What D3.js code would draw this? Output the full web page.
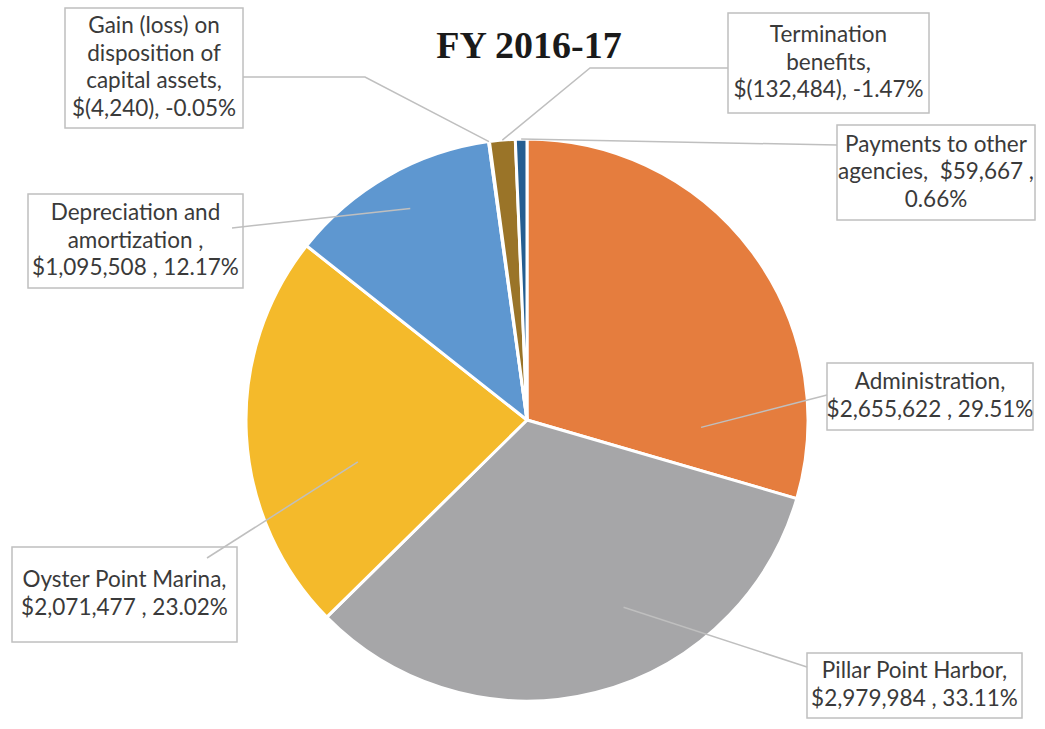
<!DOCTYPE html>
<html>
<head>
<meta charset="utf-8">
<script src="https://cdn.jsdelivr.net/npm/d3@7"></script>
<style>
  body { margin: 0; background: #fff; }
  svg { display: block; }
</style>
</head>
<body>
<div id="chart"></div>
<script>
// data, clockwise from 12 o'clock
const categories = ["Administration", "Pillar Point Harbor", "Oyster Point Marina",
  "Depreciation and amortization", "Gain (loss) on disposition of capital assets",
  "Termination benefits", "Payments to other agencies"];
const amounts = [2655622, 2979984, 2071477, 1095508, -4240, -132484, 59667];
const percents = ["29.51%", "33.11%", "23.02%", "12.17%", "-0.05%", "-1.47%", "0.66%"];
const sliceColors = ["#e57d3e", "#a6a6a8", "#f4ba2b", "#5e97d0", "#636363", "#9a7428", "#255e91"];

// label text, line by line (as printed on the chart)
const labelLines = [
  ["Administration,", "$2,655,622 , 29.51%"],
  ["Pillar Point Harbor,", "$2,979,984 , 33.11%"],
  ["Oyster Point Marina,", "$2,071,477 , 23.02%"],
  ["Depreciation and", "amortization ,", "$1,095,508 , 12.17%"],
  ["Gain (loss) on", "disposition of", "capital assets,", "$(4,240), -0.05%"],
  ["Termination", "benefits,", "$(132,484), -1.47%"],
  ["Payments to other", "agencies,  $59,667 ,", "0.66%"]
];

// label box layout + leader line (t = position inside slice, k = radius share)
const labelLayout = [
  { x: 827, y: 363, w: 206, h: 67, from: [827, 395], elbow: null, t: 0.87, k: 0.62 },
  { x: 807, y: 653, w: 215, h: 65, from: [807, 667], elbow: null, t: 0.39, k: 0.75 },
  { x: 12, y: 547, w: 225, h: 95, from: [207, 558], elbow: null, t: 0.37, k: 0.62 },
  { x: 28, y: 194, w: 215, h: 94, from: [232, 228], elbow: null, t: 0.52, k: 0.86 },
  { x: 65, y: 8, w: 178, h: 120, from: [243, 77], elbow: [365, 77], t: 0.5, k: 1.0 },
  { x: 728, y: 13, w: 201, h: 100, from: [728, 68], elbow: [590, 68], t: 0.5, k: 1.0 },
  { x: 837, y: 125, w: 198, h: 95, from: [837, 145], elbow: null, t: 0.5, k: 1.0 }
];

const width = 1045, height = 729;
const cx = 527, cy = 420, radius = 281;

const svg = d3.select("#chart").append("svg")
  .attr("width", width)
  .attr("height", height);

// title
svg.append("text")
  .attr("x", 529)
  .attr("y", 58)
  .attr("text-anchor", "middle")
  .style("font-family", "'Liberation Serif', 'Times New Roman', serif")
  .style("font-weight", "bold")
  .style("font-size", "38px")
  .style("fill", "#1a1a1a")
  .text("FY 2016-17");

const pie = d3.pie()
  .sort(null)
  .value(d => Math.abs(d));

const arcs = pie(amounts);

const arc = d3.arc()
  .innerRadius(0)
  .outerRadius(radius);

const g = svg.append("g")
  .attr("transform", "translate(" + cx + "," + cy + ")");

g.selectAll("path")
  .data(arcs)
  .enter()
  .append("path")
  .attr("d", arc)
  .style("fill", (d, i) => sliceColors[i])
  .style("stroke", "#fff")
  .style("stroke-width", 3)
  .style("stroke-linejoin", "round");

// label boxes
const labels = svg.append("g")
  .selectAll("g")
  .data(arcs)
  .enter()
  .append("g");

labels.append("rect")
  .attr("x", (d, i) => labelLayout[i].x)
  .attr("y", (d, i) => labelLayout[i].y)
  .attr("width", (d, i) => labelLayout[i].w)
  .attr("height", (d, i) => labelLayout[i].h)
  .style("fill", "#fff")
  .style("stroke", "#bfbfbf")
  .style("stroke-width", 1.5);

labels.each(function (d, i) {
  const box = labelLayout[i];
  const lines = labelLines[i];
  const lineH = 27.5;
  const top = box.y + box.h / 2 - (lines.length * lineH) / 2;
  d3.select(this).append("text")
    .attr("text-anchor", "middle")
    .style("font-family", "Lato, 'Liberation Sans', sans-serif")
    .style("font-size", "22.5px")
    .style("fill", "#3a3a3a")
    .style("white-space", "pre")
    .selectAll("tspan")
    .data(lines)
    .enter()
    .append("tspan")
    .attr("x", box.x + box.w / 2)
    .attr("y", (l, j) => top + j * lineH + lineH * 0.74)
    .text(l => l);
});

// leader lines
labels.append("path")
  .attr("d", function (d, i) {
    const L = labelLayout[i];
    const ang = d.startAngle + (d.endAngle - d.startAngle) * L.t;
    const r = radius * L.k;
    const tx = cx + Math.sin(ang) * r;
    const ty = cy - Math.cos(ang) * r;
    const pts = [L.from];
    if (L.elbow) pts.push(L.elbow);
    pts.push([tx, ty]);
    return d3.line()(pts);
  })
  .style("fill", "none")
  .style("stroke", "#bfbfbf")
  .style("stroke-width", 1.5);
</script>
</body>
</html>
